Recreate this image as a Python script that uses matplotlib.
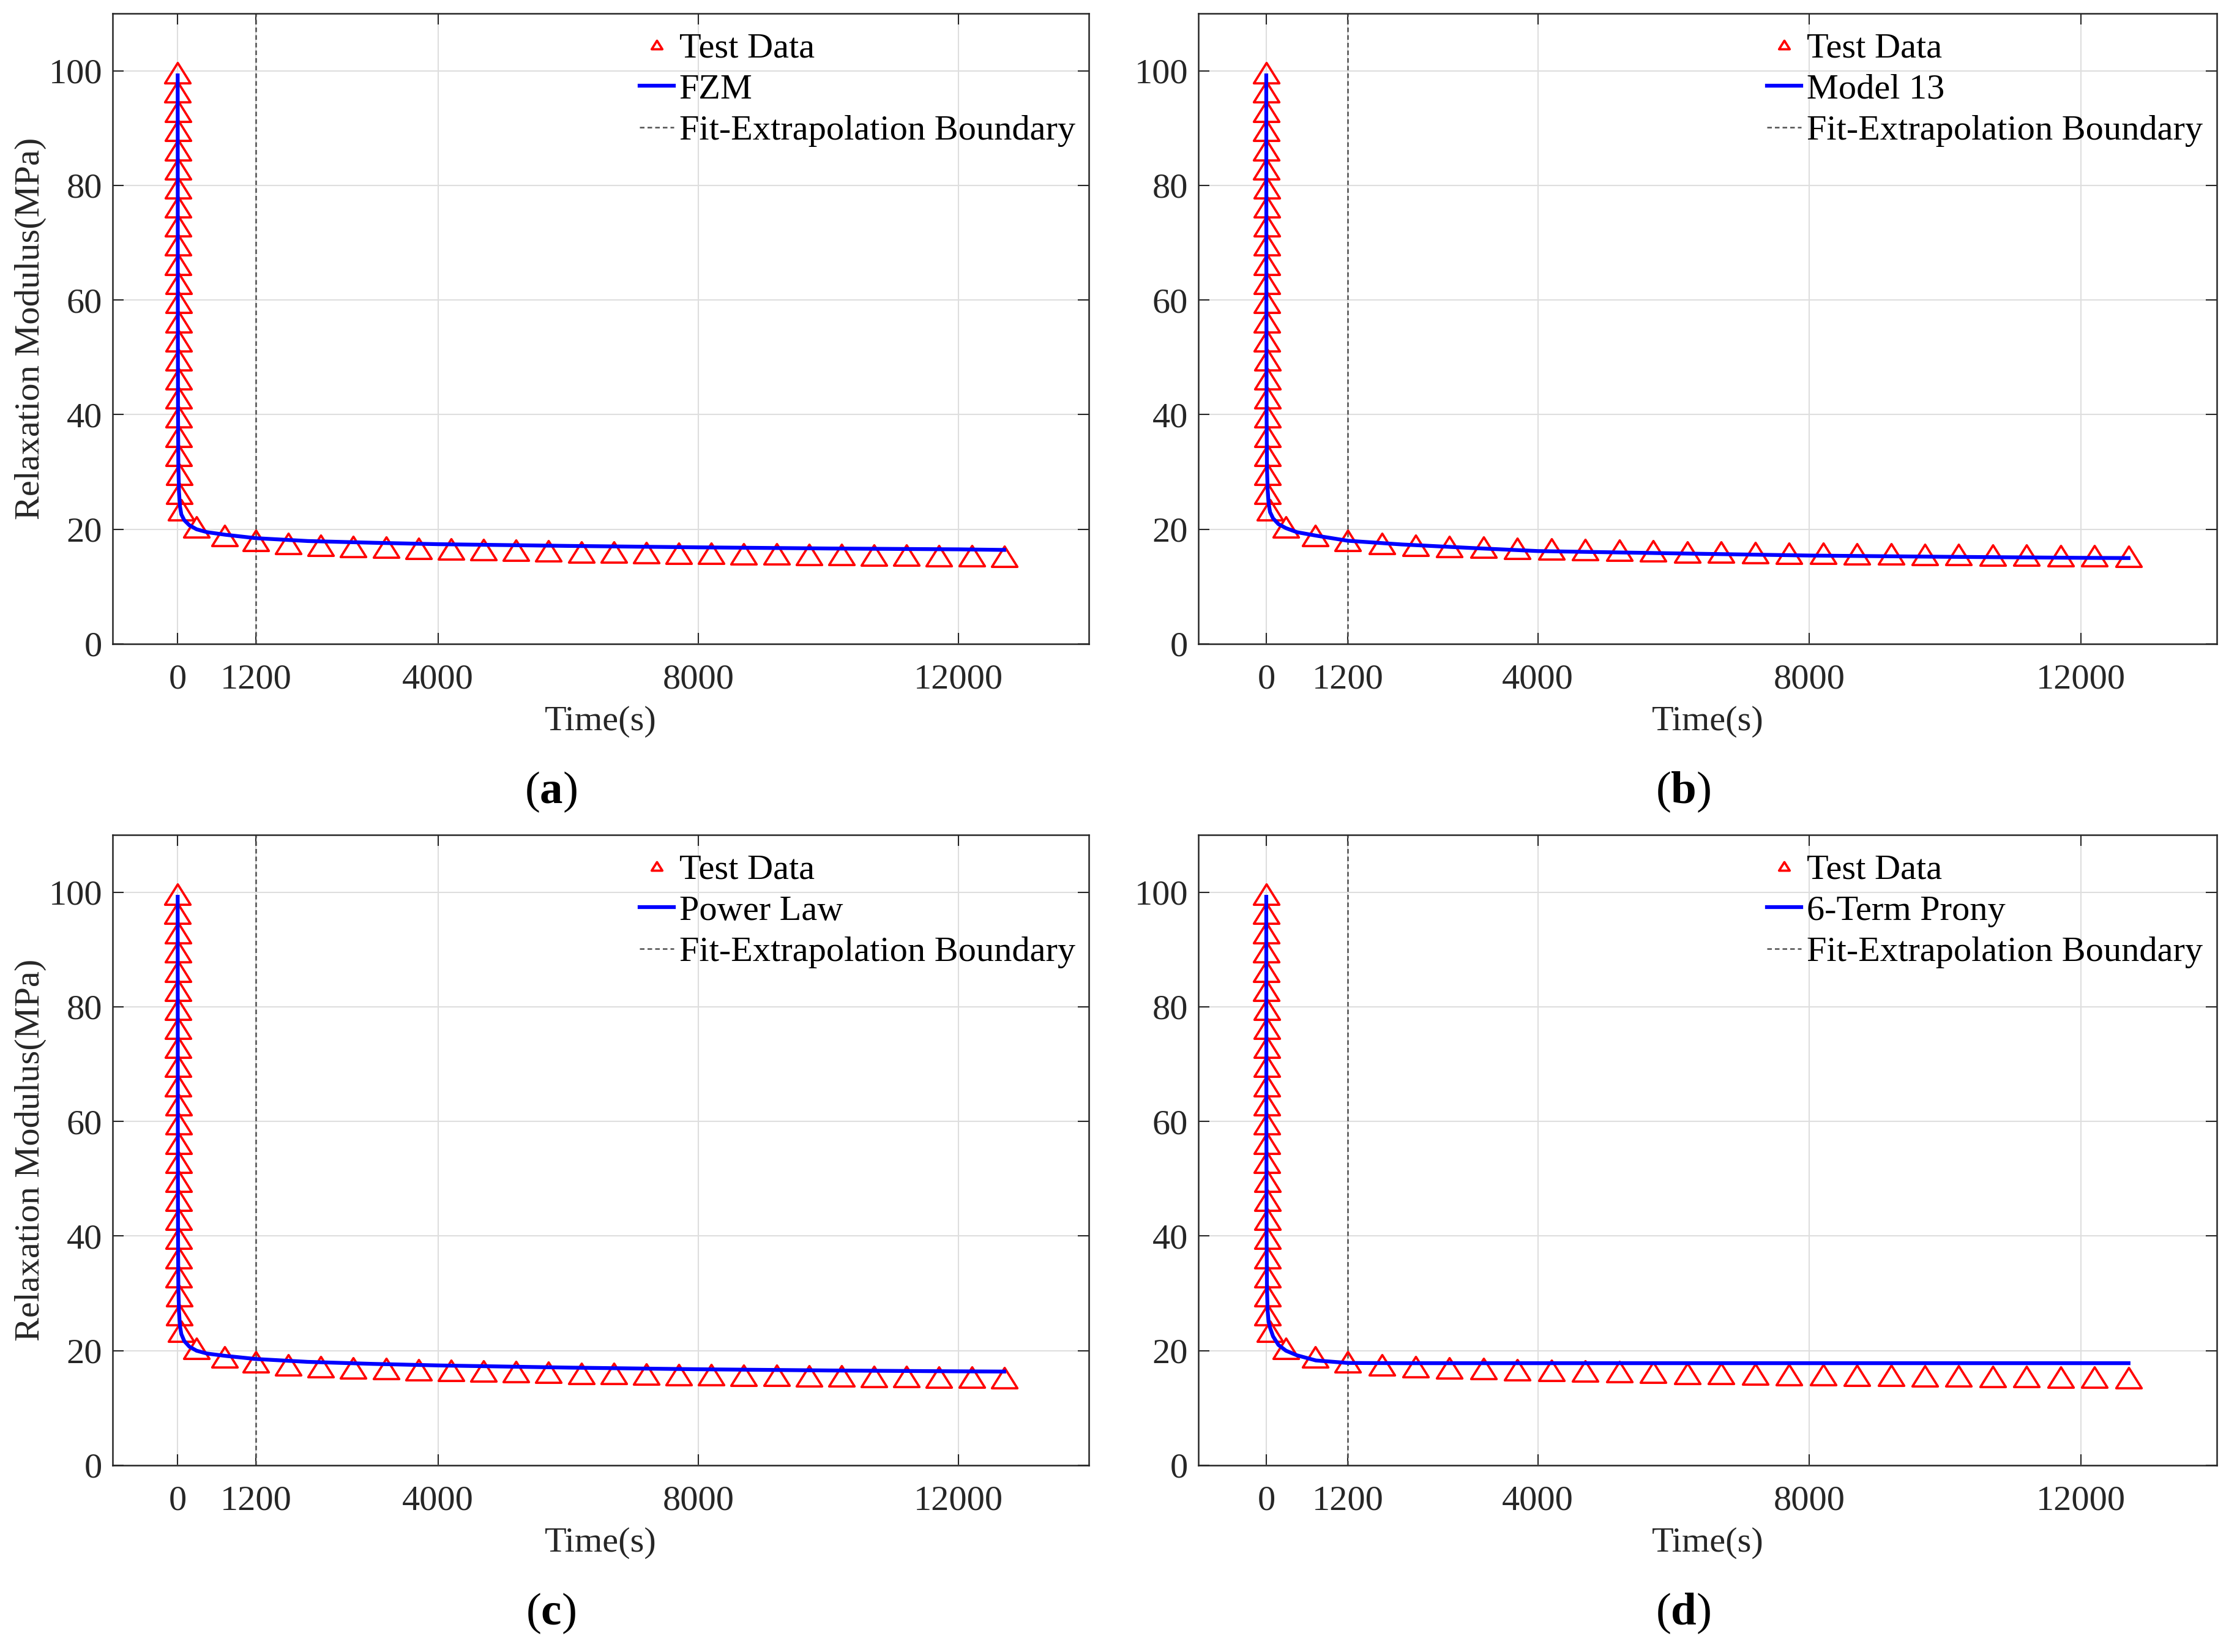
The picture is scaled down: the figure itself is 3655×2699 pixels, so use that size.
import numpy as np
import matplotlib.pyplot as plt
from matplotlib.path import Path

plt.rcParams['font.family'] = ['Liberation Serif', 'DejaVu Serif']
plt.rcParams['mathtext.fontset'] = 'custom'
plt.rcParams['mathtext.rm'] = 'Liberation Serif'
plt.rcParams['mathtext.bf'] = 'Liberation Serif:bold'

# test data (same in all panels)
test_t = [0, 1, 2, 3, 4, 5, 6, 7, 8, 9, 10, 11, 12, 13, 14, 15, 16, 17, 18, 19, 20, 21, 22,
          56, 285, 720,
          1200, 1700, 2200, 2700, 3200, 3700, 4200, 4700, 5200, 5700, 6200, 6700,
          7200, 7700, 8200, 8700, 9200, 9700, 10200, 10700, 11200, 11700, 12200, 12700]
test_e = [99.6, 96.3, 92.9, 89.6, 86.2, 82.9, 79.6, 76.2, 72.9, 69.6, 66.2, 62.9,
          59.6, 56.2, 52.9, 49.6, 46.2, 42.9, 39.6, 36.2, 32.9, 29.6, 26.3,
          23.4, 20.4, 18.9,
          18.0, 17.5, 17.2, 17.0, 16.85, 16.7, 16.6, 16.45, 16.3, 16.2, 16.05, 16.0,
          15.95, 15.85, 15.8, 15.7, 15.65, 15.6, 15.55, 15.5, 15.45, 15.4, 15.35, 15.3]

# fitted curves
fit_t = [0, 2, 5, 10, 20, 35, 56, 100, 180, 290, 450, 730, 1200, 2000, 3000, 4000,
         6000, 8000, 10000, 12000, 12700]
fzm = [99.2, 60, 40, 31, 26.5, 24.0, 22.6, 21.6, 20.7, 20.0, 19.5, 19.05, 18.45, 17.95,
       17.65, 17.4, 17.1, 16.85, 16.65, 16.5, 16.4]
model13 = [99.2, 60, 40, 31, 27.0, 24.5, 23.0, 21.9, 20.9, 20.2, 19.5, 18.9, 18.0, 17.35,
           16.75, 16.2, 15.8, 15.42, 15.2, 15.02, 14.98]
power_law = [99.2, 60, 40, 31, 26.8, 24.3, 22.9, 21.7, 20.7, 20.0, 19.5, 19.1, 18.55, 18.05,
             17.7, 17.43, 17.05, 16.76, 16.55, 16.4, 16.36]
prony6 = [99.2, 60, 40, 31, 27.0, 25.0, 24.0, 22.5, 21.0, 20.0, 19.2, 18.3, 17.86, 17.82,
          17.82, 17.82, 17.82, 17.82, 17.82, 17.82, 17.82]

boundary_t = 1200
x_ticks = [0, 1200, 4000, 8000, 12000]
y_ticks = [0, 20, 40, 60, 80, 100]

panels = [
    ('FZM', fzm, 'a'),
    ('Model 13', model13, 'b'),
    ('Power Law', power_law, 'c'),
    ('6-Term Prony', prony6, 'd'),
]

W, H = 3655, 2699
fig = plt.figure(figsize=(W / 300, H / 300), dpi=300)

tri = Path([(0, 0.8), (-1, -0.8), (1, -0.8), (0, 0.8)], closed=True)
axcol = '#262626'

rects = [
    (184, 22, 1595, 1030),
    (1958, 22, 1664, 1030),
    (184, 1364, 1595, 1030),
    (1958, 1364, 1664, 1030),
]
label_pos = [(900, 1294), (2750, 1294), (900, 2636), (2750, 2636)]

for i, (name, vals, letter) in enumerate(panels):
    l, t, w, h = rects[i]
    ax = fig.add_axes([l / W, 1 - (t + h) / H, w / W, h / H])
    ax.plot(test_t, test_e, linestyle='none', marker=tri, markersize=10,
            markerfacecolor='none', markeredgecolor='#ff0000', markeredgewidth=0.9,
            label='Test Data', zorder=3)
    ax.plot(fit_t, vals, color='#0000ff', linewidth=1.5, label=name, zorder=4)
    ax.axvline(boundary_t, color='#505050', linewidth=0.6, dashes=(3, 2),
               label='Fit-Extrapolation Boundary', zorder=2)

    ax.set_xlim(-1000, 14000)
    ax.set_ylim(0, 110)
    ax.set_xticks(x_ticks)
    ax.set_xticklabels([str(v) for v in x_ticks])
    ax.set_yticks(y_ticks)
    ax.grid(True, color='#dedede', linewidth=0.5)
    ax.set_axisbelow(True)
    ax.tick_params(direction='in', top=True, right=True, length=4.3, width=0.5,
                   colors=axcol, labelsize=14)
    ax.tick_params(axis='x', pad=7.8)
    ax.tick_params(axis='y', pad=4)
    for s in ax.spines.values():
        s.set_color(axcol)
        s.set_linewidth(0.6)

    ax.set_xlabel('Time(s)', fontsize=14, color=axcol)
    ax.xaxis.set_label_coords(0.5, -0.098)
    if letter in ('a', 'c'):
        ax.set_ylabel('Relaxation Modulus(MPa)', fontsize=14, color=axcol)
        ax.yaxis.set_label_coords(-0.068, 0.5)

    ax.legend(loc='upper right', bbox_to_anchor=(0.986, 0.9705), frameon=False,
              fontsize=14, borderpad=0, borderaxespad=0, handlelength=0.95,
              handletextpad=0.15, labelspacing=0.25, markerscale=0.42)

    lx, ly = label_pos[i]
    fig.text(lx / W, 1 - ly / H, '($\\mathbf{%s}$)' % letter, fontsize=18,
             ha='center', va='center')

fig.savefig('out.png', dpi=300)
